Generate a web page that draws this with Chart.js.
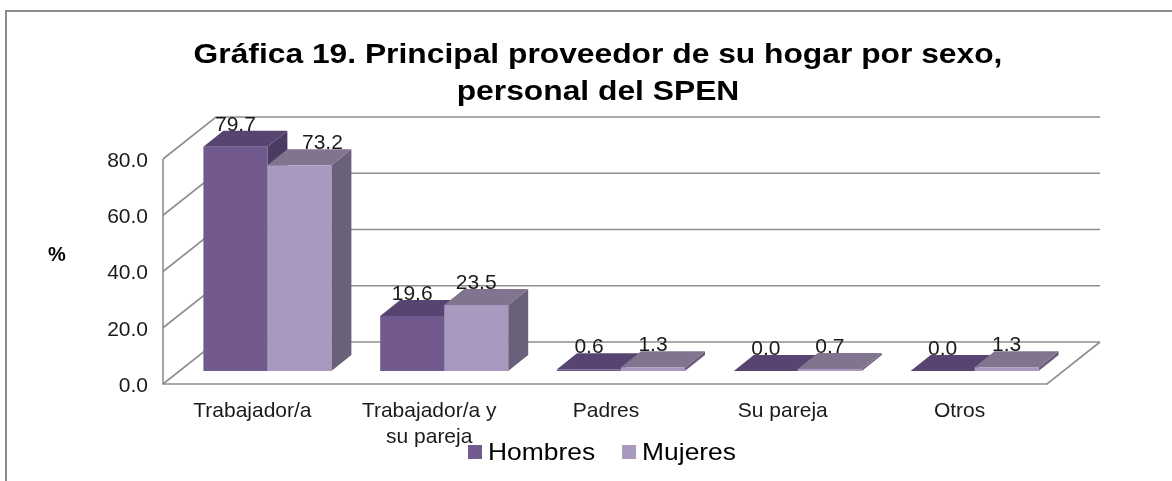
<!DOCTYPE html>
<html lang="es">
<head>
<meta charset="utf-8">
<title>Gráfica 19</title>
<script src="https://cdn.jsdelivr.net/npm/chart.js@4.4.1/dist/chart.umd.min.js"></script>
<style>
  html, body { margin: 0; padding: 0; background: #fff; }
  #wrap { position: relative; width: 1172px; height: 481px; }
</style>
</head>
<body>
<div id="wrap"><canvas id="chart" width="1172" height="481"></canvas></div>
<script>
// ---- data ----
const categories = ["Trabajador/a", ["Trabajador/a y", "su pareja"], "Padres", "Su pareja", "Otros"];
const hombres = [79.7, 19.6, 0.6, 0.0, 0.0];
const mujeres = [73.2, 23.5, 1.3, 0.7, 1.3];
const seriesNames = ["Hombres", "Mujeres"];
const yTicks = [0, 20, 40, 60, 80];
const titleLines = ["Gráfica 19. Principal proveedor de su hogar por sexo,", "personal del SPEN"];

// ---- look ----
const FONT = "'Liberation Sans', Arial, sans-serif";
const TEXT = "#1a1a1a";
const GRID = "#8e8e8e";
const FACES = [
  { front: "#725a8e", top: "#574470", side: "#4b3a62" },
  { front: "#a899bf", top: "#80748f", side: "#6b6079" }
];
// floor / back wall offsets measured from the plane the bars stand on
const FLOOR = { frontX: -16, frontY: 13, backX: 37, backY: -29 };
const BAR_DX = 20, BAR_DY = -16;
const LABEL_NUDGE = { "1-0": 23 };   // dataset-index -> x shift, keeps 73.2 clear of the taller bar

// the original picture is a little wider than tall, so text gets stretched sideways
function wideText(ctx, text, x, y, sx) {
  ctx.save();
  ctx.translate(x, y);
  ctx.scale(sx, 1);
  ctx.fillText(text, 0, 0);
  ctx.restore();
}

const threeD = {
  id: "threeD",

  beforeDatasetsDraw(chart) {
    const ctx = chart.ctx, y = chart.scales.y, a = chart.chartArea;
    const fl = a.left + FLOOR.frontX, fr = a.right + FLOOR.frontX;
    const bl = a.left + FLOOR.backX, br = a.right + FLOOR.backX;
    const p0 = y.getPixelForValue(yTicks[0]);
    const pMax = y.getPixelForValue(yTicks[yTicks.length - 1]);

    ctx.save();
    ctx.strokeStyle = GRID;
    ctx.lineWidth = 1.6;
    yTicks.forEach(v => {
      const p = y.getPixelForValue(v);
      ctx.beginPath();
      ctx.moveTo(fl, p + FLOOR.frontY);
      ctx.lineTo(bl, p + FLOOR.backY);
      ctx.lineTo(br, p + FLOOR.backY);
      ctx.stroke();
    });
    ctx.beginPath();
    ctx.moveTo(fl, pMax + FLOOR.frontY);
    ctx.lineTo(fl, p0 + FLOOR.frontY);
    ctx.lineTo(fr, p0 + FLOOR.frontY);
    ctx.lineTo(br, p0 + FLOOR.backY);
    ctx.stroke();
    ctx.restore();
  },

  // bars are drawn below, category by category, so faces overlap like in 3D
  beforeDatasetDraw() { return false; },

  afterDatasetsDraw(chart) {
    const ctx = chart.ctx;
    const metas = chart.data.datasets.map((d, i) => chart.getDatasetMeta(i));

    ctx.save();
    for (let i = 0; i < categories.length; i++) {
      metas.forEach((meta, d) => {
        const bar = meta.data[i];
        const p = bar.getProps(["x", "y", "base", "width"], true);
        const l = p.x - p.width / 2, r = p.x + p.width / 2;
        const f = FACES[d];

        ctx.fillStyle = f.side;
        ctx.beginPath();
        ctx.moveTo(r, p.y);
        ctx.lineTo(r + BAR_DX, p.y + BAR_DY);
        ctx.lineTo(r + BAR_DX, p.base + BAR_DY);
        ctx.lineTo(r, p.base);
        ctx.closePath();
        ctx.fill();

        ctx.fillStyle = f.top;
        ctx.beginPath();
        ctx.moveTo(l, p.y);
        ctx.lineTo(l + BAR_DX, p.y + BAR_DY);
        ctx.lineTo(r + BAR_DX, p.y + BAR_DY);
        ctx.lineTo(r, p.y);
        ctx.closePath();
        ctx.fill();

        bar.draw(ctx);
      });
    }

    // value labels
    ctx.fillStyle = TEXT;
    ctx.font = "21px " + FONT;
    ctx.textAlign = "center";
    ctx.textBaseline = "middle";
    metas.forEach((meta, d) => {
      const values = chart.data.datasets[d].data;
      meta.data.forEach((bar, i) => {
        const nudge = LABEL_NUDGE[d + "-" + i] || 0;
        ctx.fillText(values[i].toFixed(1), bar.x + nudge, bar.y - 22);
      });
    });
    ctx.restore();
  },

  afterDraw(chart) {
    const ctx = chart.ctx;
    ctx.save();

    // outer frame
    ctx.strokeStyle = "#8a8a8a";
    ctx.lineWidth = 2;
    ctx.beginPath();
    ctx.moveTo(6, 481);
    ctx.lineTo(6, 11);
    ctx.lineTo(1172, 11);
    ctx.stroke();

    // title
    ctx.fillStyle = "#000";
    ctx.textAlign = "center";
    ctx.textBaseline = "middle";
    ctx.font = "bold 28px " + FONT;
    titleLines.forEach((t, k) => wideText(ctx, t, 598, 55 + k * 37, 1.135));

    // axis unit
    ctx.font = "bold 20px " + FONT;
    ctx.fillText("%", 57, 255);

    // legend
    ctx.font = "24px " + FONT;
    ctx.textAlign = "left";
    let lx = 468;
    chart.data.datasets.forEach((ds) => {
      ctx.fillStyle = ds.backgroundColor;
      ctx.fillRect(lx, 445, 14, 14);
      ctx.fillStyle = "#000";
      wideText(ctx, ds.label, lx + 20, 453, 1.1);
      lx += 20 + ctx.measureText(ds.label).width * 1.1 + 27;
    });
    ctx.restore();
  }
};

new Chart(document.getElementById("chart"), {
  type: "bar",
  data: {
    labels: categories,
    datasets: [
      { label: seriesNames[0], data: hombres, backgroundColor: FACES[0].front },
      { label: seriesNames[1], data: mujeres, backgroundColor: FACES[1].front }
    ]
  },
  options: {
    responsive: false,
    animation: false,
    layout: { padding: { top: 146, right: 109, bottom: 0, left: 0 } },
    datasets: { bar: { categoryPercentage: 0.724, barPercentage: 1, borderWidth: 0 } },
    plugins: { legend: { display: false }, title: { display: false }, tooltip: { enabled: false } },
    scales: {
      x: {
        grid: { display: false, drawTicks: false },
        border: { display: false },
        ticks: { color: TEXT, font: { family: FONT, size: 21, lineHeight: 1.2 }, padding: 28, labelOffset: -15, maxRotation: 0, autoSkip: false },
        afterFit(scale) { scale.height = 110; }
      },
      y: {
        min: 0,
        max: 80,
        grid: { display: false, drawTicks: false },
        border: { display: false },
        ticks: { stepSize: 20, color: TEXT, font: { family: FONT, size: 21 }, padding: 31, labelOffset: 15, callback: v => v.toFixed(1) },
        afterFit(scale) { scale.width = 179; }
      }
    }
  },
  plugins: [threeD]
});
</script>
</body>
</html>
